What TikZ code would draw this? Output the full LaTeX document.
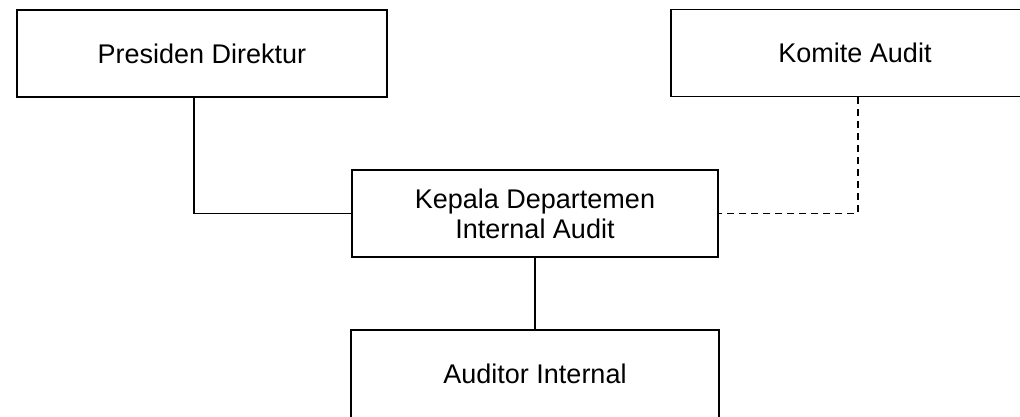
\documentclass[tikz,border=0pt]{standalone}
\usepackage{fontspec}
\setmainfont{Liberation Sans}
\usepackage{tikz}

\begin{document}
\begin{tikzpicture}[x=1pt, y=-1pt]
    \tikzstyle{unitbox} = [rectangle, draw, line width=1.5pt, inner sep=0pt, minimum width=368pt, minimum height=87pt, align=center, font=\fontsize{27}{30}\selectfont]
    \tikzstyle{garis} = [line width=1.5pt]
    \tikzstyle{garisputus} = [line width=1.5pt, dash pattern=on 7pt off 5pt]

    % Canvas
    \clip (0,0) rectangle (1020,417);

    % Boxes
    \node[unitbox, minimum width=370pt] (pres) at (202,53.5) {Presiden Direktur};
    \node[unitbox] (komite) at (855,53) {Komite Audit};
    \node[unitbox, minimum width=366pt] (kadep) at (535,213.5) {Kepala Departemen\\Internal Audit};
    \node[unitbox, minimum height=88pt] (auditor) at (535,374) {Auditor Internal};

    % Lines
    \draw[garis] ([xshift=-8pt]pres.south) |- (kadep.west);
    \draw[garisputus] ([xshift=3pt]komite.south) |- (kadep.east);
    \draw[garis] (kadep.south) -- (auditor.north);

\end{tikzpicture}
\end{document}
